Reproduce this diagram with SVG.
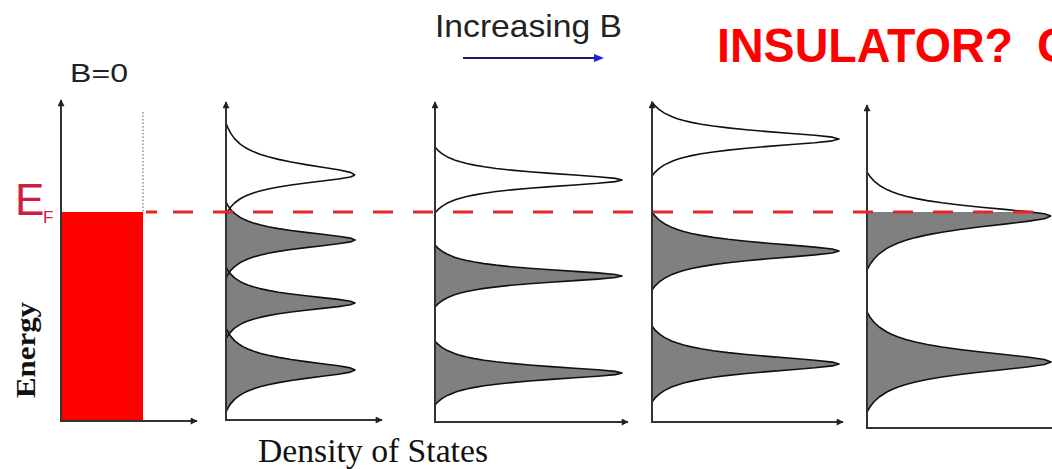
<svg xmlns="http://www.w3.org/2000/svg" xmlns:xlink="http://www.w3.org/1999/xlink" width="1052" height="469" viewBox="0 0 1052 469">
<style>
.f{fill:#808080;stroke:none}
.s{fill:none;stroke:#111;stroke-width:1.6;stroke-linejoin:round}
.ax{fill:none;stroke:#333;stroke-width:2}
.sans{font-family:"Liberation Sans",Arial,sans-serif}
.serif{font-family:"Liberation Serif","Times New Roman",serif}
</style>
<defs>
<path id="hu" vector-effect="non-scaling-stroke" d="M0,-1L.0157,-.9L.0369,-.8L.0661,-.7L.1078,-.6L.1355,-.55L.1694,-.5L.2112,-.45L.263,-.4L.3274,-.35L.4073,-.3L.5048,-.25L.6199,-.2L.747,-.15L.8706,-.1L.9644,-.05L1,0"/>
<path id="hf" d="M0,-1L.0157,-.9L.0369,-.8L.0661,-.7L.1078,-.6L.1355,-.55L.1694,-.5L.2112,-.45L.263,-.4L.3274,-.35L.4073,-.3L.5048,-.25L.6199,-.2L.747,-.15L.8706,-.1L.9644,-.05L1,0L0,0Z"/>
<path id="pk" vector-effect="non-scaling-stroke" d="M0,-1L.0157,-.9L.0369,-.8L.0661,-.7L.1078,-.6L.1355,-.55L.1694,-.5L.2112,-.45L.263,-.4L.3274,-.35L.4073,-.3L.5048,-.25L.6199,-.2L.747,-.15L.8706,-.1L.9644,-.05L1,0L.9644,.05L.8706,.1L.747,.15L.6199,.2L.5048,.25L.4073,.3L.3274,.35L.263,.4L.2112,.45L.1694,.5L.1355,.55L.1078,.6L.0661,.7L.0369,.8L.0157,.9L0,1Z"/>
<marker id="ah" viewBox="0 0 10 10" refX="9" refY="5" markerWidth="8" markerHeight="7" orient="auto-start-reverse" markerUnits="userSpaceOnUse">
<path d="M0,0L10,5L0,10Z" fill="#222"/>
</marker>
<clipPath id="belowEF"><rect x="0" y="212" width="1052" height="257"/></clipPath>
</defs>
<rect width="1052" height="469" fill="#ffffff"/>

<g id="panel-b0">
<rect x="61" y="212" width="82" height="209" fill="#ff0000"/>
<line x1="143" y1="112" x2="143" y2="212" stroke="#555" stroke-width="1" stroke-dasharray="1.5 2"/>
<path class="ax" d="M61,100L61,421L197,421" marker-start="url(#ah)" marker-end="url(#ah)"/>
<text class="sans" x="70" y="82" font-size="25" fill="#222" textLength="58" lengthAdjust="spacingAndGlyphs">B=0</text>
</g>

<g id="panel-1">
<g clip-path="url(#belowEF)">
<use href="#pk" class="f" transform="translate(226,240) scale(129,38)"/>
<use href="#pk" class="f" transform="translate(226,303) scale(129,36)"/>
<use href="#pk" class="f" transform="translate(226,370) scale(129,42)"/>
</g>
<use href="#hu" class="s" transform="translate(226,175) scale(129,52)"/>
<use href="#hu" class="s" transform="translate(226,175) scale(129,-40)"/>
<use href="#pk" class="s" transform="translate(226,240) scale(129,38)"/>
<use href="#pk" class="s" transform="translate(226,303) scale(129,36)"/>
<use href="#pk" class="s" transform="translate(226,370) scale(129,42)"/>
<path class="ax" d="M226,102L226,420L382,420" marker-start="url(#ah)" marker-end="url(#ah)"/>
</g>

<g id="panel-2">
<use href="#pk" class="f" transform="translate(435,276) scale(187,31)"/>
<use href="#pk" class="f" transform="translate(435,373) scale(187,32)"/>
<use href="#pk" class="s" transform="translate(435,180) scale(187,33)"/>
<use href="#pk" class="s" transform="translate(435,276) scale(187,31)"/>
<use href="#pk" class="s" transform="translate(435,373) scale(187,32)"/>
<path class="ax" d="M435,102L435,422L628,422" marker-start="url(#ah)" marker-end="url(#ah)"/>
</g>

<g id="panel-3">
<use href="#pk" class="f" transform="translate(652,251) scale(187,39)"/>
<use href="#pk" class="f" transform="translate(652,364) scale(187,38)"/>
<use href="#pk" class="s" transform="translate(652,139) scale(187,37)"/>
<use href="#pk" class="s" transform="translate(652,251) scale(187,39)"/>
<use href="#pk" class="s" transform="translate(652,364) scale(187,38)"/>
<path class="ax" d="M652,102L652,422L843,422" marker-start="url(#ah)" marker-end="url(#ah)"/>
</g>

<g id="panel-4">
<g clip-path="url(#belowEF)">
<use href="#hf" class="f" transform="translate(867,216) scale(184,44)"/>
<use href="#hf" class="f" transform="translate(867,216) scale(184,-54)"/>
</g>
<use href="#pk" class="f" transform="translate(867,362) scale(184,50)"/>
<use href="#hu" class="s" transform="translate(867,216) scale(184,44)"/>
<use href="#hu" class="s" transform="translate(867,216) scale(184,-54)"/>
<use href="#pk" class="s" transform="translate(867,362) scale(184,50)"/>
<path class="ax" d="M867,105L867,428L1052,428" marker-start="url(#ah)"/>
</g>

<g id="fermi-level">
<line x1="146" y1="212" x2="1052" y2="212" stroke="#e02a2a" stroke-width="3" stroke-dasharray="11 16 20 20 20 20 20 20 20 20 20 20 20 20 20 20 20 20 20 20 20 20 20 20 20 20 20 20 20 20 20 20 20 20 20 20 20 20 20 20 20 20 20 20 20 20 20 20 20 20"/>
<text class="sans" x="15" y="215" font-size="44" fill="#cc2040">E</text>
<text class="sans" x="43" y="223" font-size="17" fill="#cc2040">F</text>
</g>

<g id="labels">
<text class="serif" transform="translate(35,398) rotate(-90)" font-size="28" font-weight="bold" fill="#111" textLength="96" lengthAdjust="spacingAndGlyphs">Energy</text>
<text class="serif" x="258" y="462" font-size="33" fill="#111" textLength="230" lengthAdjust="spacingAndGlyphs">Density of States</text>
<text class="sans" x="435" y="37" font-size="32" fill="#222" textLength="187" lengthAdjust="spacingAndGlyphs">Increasing B</text>
<line x1="463" y1="58" x2="597" y2="58" stroke="#1c1c6e" stroke-width="2"/>
<polygon points="594,54 604,58 594,62" fill="#1e1ee0"/>
<text class="sans" y="62" font-size="48" font-weight="bold" fill="#ff0000"><tspan x="717" textLength="296" lengthAdjust="spacingAndGlyphs">INSULATOR?</tspan><tspan x="1037">C</tspan></text>
</g>
</svg>
